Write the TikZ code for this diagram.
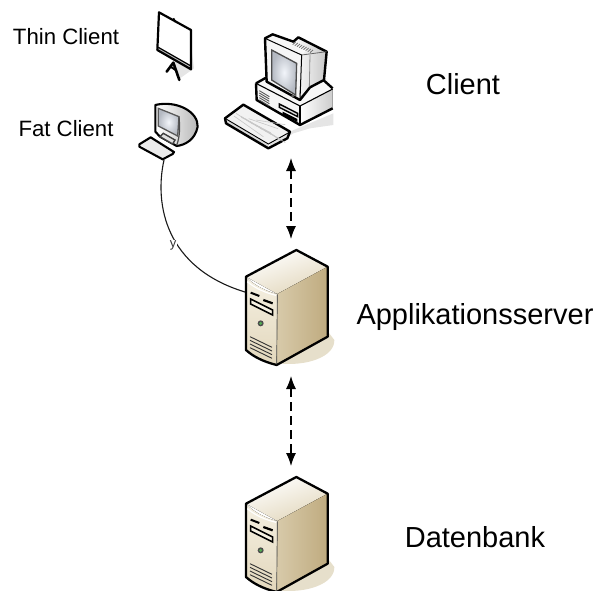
\documentclass[tikz,border=0pt]{standalone}
\usepackage{fontspec}
\setmainfont{Liberation Sans}
\usetikzlibrary{arrows.meta}
\definecolor{srvlight}{HTML}{F5F0E2}
\definecolor{srvmid}{HTML}{E2D7BC}
\definecolor{srvdark}{HTML}{BFAB7F}
\definecolor{srvshadow}{HTML}{E6DFCB}
\definecolor{scr}{HTML}{F2F5FA}
\definecolor{scrout}{HTML}{B4B9C2}
\tikzset{
  big/.style={font=\fontsize{29}{33}\selectfont,anchor=center,inner sep=0pt},
  small/.style={font=\fontsize{22.2}{26}\selectfont,anchor=center,inner sep=0pt},
  link/.style={{Latex[length=13pt,width=10pt]}-{Latex[length=13pt,width=10pt]},dash pattern=on 9pt off 5pt,line width=1.2pt},
  curve/.style={draw=black!90,line width=1.1pt},
}
\newcommand{\serverdraw}[1]{%
\begin{scope}[shift={(140,#1)},x=1pt/3,y=-1pt/3]
 \fill[srvshadow] (415,640) .. controls (500,650) and (585,620) .. (583,570) -- (560,540) -- (415,620) -- cycle;
 \fill[top color=white,bottom color=srvmid,shading angle=20] (318,380) -- (469,300) -- (563,350) -- (412,432) -- cycle;
 \fill[left color=srvmid!70!srvdark,middle color=srvlight,right color=srvdark] (412,432) -- (563,350) -- (563,560) -- (410,645) -- cycle;
 \fill[top color=srvlight,bottom color=srvmid] (318,380) .. controls (340,405) and (380,425) .. (412,432) -- (410,645) .. controls (370,635) and (340,620) .. (318,600) -- cycle;
 \draw[black,line width=2.3pt,line join=round] (318,380) -- (469,300) -- (563,350) -- (563,560) -- (410,645) .. controls (370,635) and (340,620) .. (318,600) -- cycle;
 \draw[draw=white,line width=1.2pt] (322,395) .. controls (345,415) and (380,430) .. (409,436);
 \draw[black!70,line width=.7pt] (412,434) -- (410,643);
 \draw[black,line width=2pt] (332,428) -- (358,438);
 \draw[black,line width=2.2pt] (370,450) -- (398,460);
 \draw[black,line width=1.6pt,fill=srvlight] (332,447) -- (398,480) -- (398,495) -- (332,462) -- cycle;
 \fill[black!70] (362,520) circle (9);
 \fill[green!35!gray] (362,520) circle (5);
 \foreach \k in {0,1,2,3}{\draw[black!80,line width=.9pt] (330,{560+\k*11}) -- (396,{592+\k*11});}
\end{scope}}
\begin{document}
\begin{tikzpicture}[x=1pt,y=-1pt]
\useasboundingbox (0,0) rectangle (595,590);
\clip (0,0) rectangle (595,590);
% Thin client (screen on easel)
\begin{scope}[shift={(130,0)},x=1pt/3,y=-1pt/3]
 \fill[black!10] (185,150) -- (192,205) -- (150,235) -- (130,190) -- cycle;
 \draw[black,line width=2.6pt,line cap=round] (130,188) -- (110,215);
 \draw[black,line width=2.6pt,line cap=round] (130,188) -- (148,240);
 \draw[black,line width=2pt] (122,200) -- (140,212);
 \fill[white] (87,37) -- (183,90) -- (183,208) -- (82,150) -- cycle;
 \fill[black!25] (82,142) -- (183,198) -- (183,208) -- (82,150) -- cycle;
 \draw[black,line width=2.2pt,line join=round] (87,37) -- (183,90) -- (183,208) -- (82,150) -- cycle;
 \draw[black,line width=1.2pt] (85,142) -- (183,198);
 \draw[black,line width=1.8pt] (130,55) -- (136,65);
\end{scope}
% Fat client
\begin{scope}[shift={(130,0)},x=1pt/3,y=-1pt/3]
 \fill[left color=white,right color=black!28] (80,312) .. controls (140,300) and (205,335) .. (203,380) .. controls (195,420) and (165,435) .. (140,438) -- (80,400) -- cycle;
 \draw[black,line width=2.1pt,line join=round] (76,315) .. controls (140,300) and (205,335) .. (203,380) .. controls (195,420) and (165,435) .. (140,438) -- (90,410) -- (76,395) -- cycle;
 \fill[inner color=scr,outer color=scrout] (85,325) -- (147,350) -- (143,408) -- (85,378) -- cycle;
 \draw[black!65,line width=1.3pt] (85,325) -- (147,350) -- (143,408) -- (85,378) -- cycle;
 \draw[black!70,line width=1.2pt] (147,350) .. controls (150,380) and (150,410) .. (140,436);
 \draw[black!75,line width=1.4pt,fill=black!12] (90,410) -- (100,400) -- (135,420) -- (128,432) -- cycle;
 \fill[black!8] (28,433) -- (65,410) -- (132,458) -- (100,478) -- cycle;
 \draw[black,line width=2.1pt,line join=round] (28,433) -- (62,412) -- (132,456) -- (128,462) -- (98,478) -- (28,440) -- cycle;
\end{scope}
% PC
\begin{scope}[shift={(130,0)},x=1pt/3,y=-1pt/3]
 \fill[black!10] (420,445) -- (490,400) -- (540,385) -- (610,375) -- (610,340) -- (420,420) -- cycle;
 % base
 \fill[black!3] (378,250) -- (410,232) -- (590,235) -- (608,265) -- (510,315) -- cycle;
 \fill[left color=white,right color=black!20] (510,318) -- (608,267) -- (608,325) -- (510,375) -- cycle;
 \fill[black!4] (378,250) -- (510,318) -- (510,375) -- (380,300) -- cycle;
 \draw[black,line width=2.4pt,line join=round] (378,250) -- (410,232) (580,240) -- (608,265) (608,325) -- (510,375) -- (380,300) -- (378,250);
 \draw[black,line width=1.1pt] (378,250) -- (510,318) -- (608,267);
 \draw[black,line width=1.1pt] (510,318) -- (510,375);
 \foreach \k in {0,1,2,3,4}{\draw[black!65,line width=.9pt] (388,{272+\k*7}) -- (418,{290+\k*7});}
 \draw[black,line width=1.4pt,fill=black!12] (448,312) -- (503,340) -- (503,350) -- (448,322) -- cycle;
 \fill[black] (458,335) -- (502,357) -- (502,366) -- (458,344) -- cycle;
 % monitor
 \fill[left color=white,right color=black!22] (490,125) -- (505,112) -- (590,155) -- (582,240) -- (540,262) -- (510,290) -- cycle;
 \fill[black!3] (405,115) -- (428,103) -- (530,150) -- (515,165) -- cycle;
 \fill[black!4] (405,115) -- (515,165) -- (505,302) -- (410,245) -- cycle;
 \foreach \k in {0,...,8}{\draw[black!55,line width=.8pt] ({497+\k*6.5},{126+\k*3}) -- ({488+\k*6.5},{134+\k*3});}
 \draw[black,line width=2.4pt,line join=round] (405,115) -- (428,103) -- (490,125) -- (505,112) -- (590,155) -- (582,240) -- (540,262) -- (510,300) -- (410,245) -- cycle;
 \draw[black,line width=1pt] (405,115) -- (515,165) -- (510,300);
 \draw[black!60,line width=.8pt] (515,165) -- (590,155);
 \draw[black!45,line width=.8pt] (540,165) -- (538,260);
 \fill[inner color=scr,outer color=scrout] (425,150) -- (500,190) -- (497,285) -- (425,240) -- cycle;
 \draw[black!70,line width=1.3pt] (425,150) -- (500,190) -- (497,285) -- (425,240) -- cycle;
 \fill[black!65] (488,288) circle (5);
 % keyboard
 \fill[black!5] (285,355) -- (340,314) -- (480,395) -- (415,435) -- cycle;
 \fill[black!14] (285,355) -- (415,435) -- (415,445) -- (288,370) -- cycle;
 \draw[black,line width=2.4pt,line join=round] (285,355) -- (340,314) -- (480,395) -- (472,415) -- (415,445) -- (288,370) -- cycle;
 \draw[black,line width=.9pt] (285,355) -- (415,432) -- (478,397);
 \foreach \k in {0,1,2,3,4,5,6,7}{\draw[black!22,line width=.6pt] ({318+\k*14},{340+\k*8}) -- ({368+\k*14},{372+\k*8});}
 \foreach \k in {0,1,2,3}{\draw[black!22,line width=.6pt] ({312+\k*22},{348-\k*5+\k*9}) -- ({400+\k*22},{410-\k*12});}
\end{scope}
\serverdraw{150}
\serverdraw{377}
% labels
\node[small] (thin) at (66,37) {Thin Client};
\node[small] (fat) at (66,129) {Fat Client};
\node[big] (client) at (463,84) {Client};
\node[big] (app) at (475,317) {Applikationsserver};
\node[big] (db) at (475,537) {Datenbank};
% anchors
\coordinate (clientdown) at (291,158);
\coordinate (apptop) at (291,239);
\coordinate (appdown) at (291,376);
\coordinate (dbtop) at (291,466);
\coordinate (fatkb) at (164,160);
\coordinate (appleft) at (245,292);
\draw[link] (clientdown) -- (apptop);
\draw[link] (appdown) -- (dbtop);
\draw[curve] (fatkb) .. controls (154,205) and (166,268) .. (appleft);
\node[fill=white,inner sep=.5pt,font=\fontsize{13}{15}\selectfont,text=black!80] (ylab) at (173,245) {y};
\end{tikzpicture}
\end{document}
